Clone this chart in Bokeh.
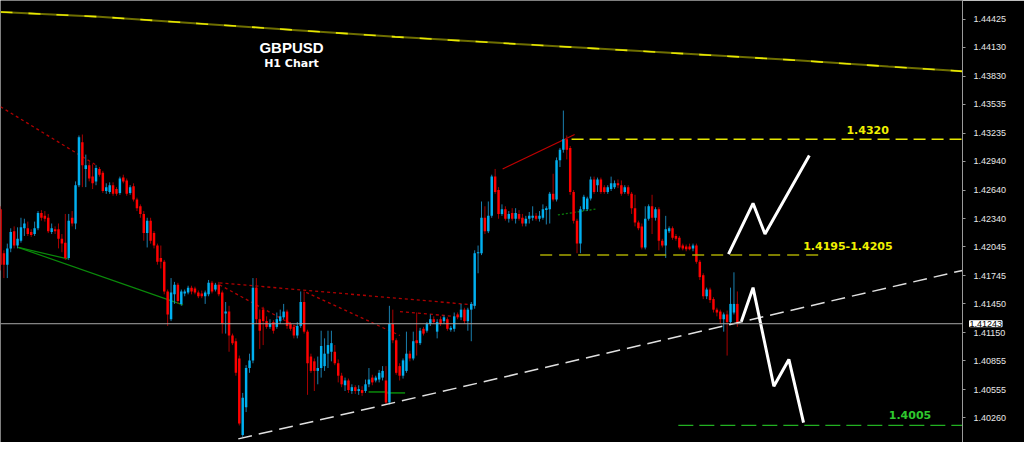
from bokeh.plotting import figure
from bokeh.models import Range1d, FixedTicker, PrintfTickFormatter, Span, Label, ColumnDataSource
from bokeh.embed import file_html
from bokeh.resources import INLINE

# ---------------- data (GBPUSD H1 candles) ----------------
opens = [1.4244,1.4198,1.4186,1.4203,1.4221,1.4206,1.4211,1.4224,1.4224,1.4220,
         1.4218,1.4224,1.4240,1.4237,1.4235,1.4220,1.4223,1.4223,1.4213,1.4209,
         1.4193,1.4235,1.4229,1.4269,1.4314,1.4286,1.4290,1.4278,1.4273,1.4286,
         1.4282,1.4263,1.4262,1.4269,1.4265,1.4261,1.4277,1.4274,1.4261,1.4268,
         1.4254,1.4247,1.4239,1.4219,1.4232,1.4219,1.4206,1.4193,1.4189,1.4158,
         1.4129,1.4155,1.4165,1.4145,1.4156,1.4157,1.4162,1.4161,1.4157,1.4156,
         1.4153,1.4155,1.4167,1.4160,1.4165,1.4157,1.4135,1.4137,1.4112,1.4106,
         1.4088,1.4008,1.4037,1.4078,1.4086,1.4162,1.4129,1.4139,1.4127,1.4121,
         1.4126,1.4121,1.4127,1.4131,1.4137,1.4124,1.4121,1.4112,1.4122,1.4147,
         1.4116,1.4090,1.4085,1.4075,1.4078,1.4080,1.4093,1.4095,1.4095,1.4083,
         1.4070,1.4060,1.4065,1.4054,1.4058,1.4054,1.4055,1.4054,1.4061,1.4068,
         1.4065,1.4066,1.4068,1.4065,1.4042,1.4124,1.4107,1.4080,1.4070,1.4075,
         1.4093,1.4088,1.4107,1.4104,1.4119,1.4117,1.4124,1.4129,1.4116,1.4129,
         1.4127,1.4129,1.4118,1.4119,1.4134,1.4131,1.4139,1.4127,1.4139,1.4143,
         1.4198,1.4198,1.4235,1.4221,1.4237,1.4278,1.4264,1.4239,1.4244,1.4234,
         1.4240,1.4234,1.4239,1.4235,1.4229,1.4234,1.4235,1.4237,1.4234,1.4235,
         1.4243,1.4244,1.4260,1.4254,1.4295,1.4306,1.4317,1.4308,1.4262,1.4232,
         1.4208,1.4244,1.4244,1.4255,1.4275,1.4269,1.4275,1.4267,1.4262,1.4265,
         1.4267,1.4271,1.4269,1.4262,1.4267,1.4260,1.4245,1.4230,1.4226,1.4204,
         1.4234,1.4247,1.4235,1.4244,1.4211,1.4206,1.4221,1.4224,1.4216,1.4214,
         1.4206,1.4205,1.4205,1.4203,1.4206,1.4189,1.4175,1.4153,1.4160,1.4150,
         1.4139,1.4137,1.4129,1.4134,1.4126,1.4136,1.4145]
highs = [1.4247,1.4201,1.4208,1.4224,1.4226,1.4225,1.4235,1.4234,1.4231,1.4223,
         1.4231,1.4242,1.4243,1.4242,1.4239,1.4229,1.4226,1.4229,1.4218,1.4239,
         1.4239,1.4242,1.4273,1.4321,1.4322,1.4301,1.4293,1.4291,1.4290,1.4288,
         1.4284,1.4271,1.4272,1.4272,1.4267,1.4278,1.4280,1.4276,1.4269,1.4271,
         1.4256,1.4249,1.4242,1.4235,1.4235,1.4221,1.4208,1.4206,1.4191,1.4160,
         1.4172,1.4168,1.4167,1.4160,1.4160,1.4164,1.4164,1.4163,1.4159,1.4159,
         1.4159,1.4170,1.4169,1.4167,1.4168,1.4159,1.4147,1.4143,1.4114,1.4109,
         1.4091,1.4052,1.4081,1.4093,1.4172,1.4172,1.4139,1.4142,1.4132,1.4129,
         1.4128,1.4136,1.4139,1.4145,1.4139,1.4126,1.4123,1.4126,1.4158,1.4158,
         1.4118,1.4093,1.4088,1.4090,1.4117,1.4109,1.4117,1.4117,1.4102,1.4087,
         1.4073,1.4068,1.4067,1.4061,1.4060,1.4060,1.4059,1.4066,1.4078,1.4071,
         1.4070,1.4076,1.4080,1.4080,1.4143,1.4139,1.4109,1.4083,1.4088,1.4116,
         1.4096,1.4116,1.4136,1.4120,1.4121,1.4126,1.4134,1.4132,1.4129,1.4132,
         1.4133,1.4131,1.4122,1.4136,1.4136,1.4145,1.4141,1.4141,1.4147,1.4201,
         1.4206,1.4252,1.4247,1.4252,1.4280,1.4286,1.4267,1.4249,1.4247,1.4242,
         1.4245,1.4245,1.4243,1.4239,1.4237,1.4241,1.4247,1.4240,1.4242,1.4249,
         1.4247,1.4262,1.4281,1.4298,1.4308,1.4347,1.4321,1.4310,1.4264,1.4234,
         1.4247,1.4259,1.4257,1.4278,1.4278,1.4277,1.4277,1.4269,1.4269,1.4278,
         1.4274,1.4275,1.4274,1.4269,1.4269,1.4262,1.4259,1.4232,1.4229,1.4247,
         1.4249,1.4259,1.4246,1.4246,1.4213,1.4237,1.4226,1.4226,1.4218,1.4216,
         1.4208,1.4207,1.4208,1.4208,1.4208,1.4191,1.4177,1.4162,1.4162,1.4152,
         1.4141,1.4139,1.4136,1.4138,1.4162,1.4178,1.4158]
lows = [1.4180,1.4172,1.4172,1.4199,1.4203,1.4203,1.4209,1.4216,1.4216,1.4215,
        1.4216,1.4222,1.4232,1.4231,1.4219,1.4218,1.4218,1.4203,1.4199,1.4191,
        1.4191,1.4226,1.4223,1.4267,1.4267,1.4267,1.4273,1.4265,1.4269,1.4278,
        1.4261,1.4260,1.4260,1.4258,1.4258,1.4259,1.4271,1.4258,1.4259,1.4252,
        1.4242,1.4235,1.4211,1.4204,1.4208,1.4203,1.4186,1.4182,1.4155,1.4122,
        1.4127,1.4145,1.4145,1.4143,1.4153,1.4155,1.4155,1.4155,1.4151,1.4151,
        1.4145,1.4153,1.4156,1.4158,1.4153,1.4114,1.4114,1.4095,1.4102,1.4070,
        1.4018,1.4006,1.4032,1.4073,1.4083,1.4124,1.4098,1.4102,1.4119,1.4119,
        1.4114,1.4119,1.4124,1.4129,1.4119,1.4117,1.4109,1.4109,1.4120,1.4114,
        1.4050,1.4073,1.4054,1.4061,1.4068,1.4075,1.4078,1.4085,1.4081,1.4063,
        1.4058,1.4054,1.4052,1.4051,1.4051,1.4050,1.4049,1.4052,1.4058,1.4060,
        1.4063,1.4063,1.4065,1.4040,1.4040,1.4104,1.4071,1.4065,1.4067,1.4073,
        1.4085,1.4086,1.4091,1.4102,1.4112,1.4115,1.4122,1.4124,1.4109,1.4122,
        1.4124,1.4117,1.4116,1.4116,1.4129,1.4128,1.4124,1.4117,1.4106,1.4140,
        1.4177,1.4196,1.4218,1.4219,1.4235,1.4260,1.4234,1.4237,1.4232,1.4230,
        1.4232,1.4229,1.4232,1.4226,1.4226,1.4229,1.4232,1.4232,1.4231,1.4233,
        1.4228,1.4229,1.4252,1.4252,1.4288,1.4303,1.4296,1.4259,1.4229,1.4198,
        1.4198,1.4242,1.4242,1.4253,1.4260,1.4262,1.4260,1.4260,1.4260,1.4263,
        1.4265,1.4266,1.4258,1.4260,1.4258,1.4239,1.4226,1.4222,1.4202,1.4202,
        1.4232,1.4218,1.4232,1.4201,1.4204,1.4193,1.4219,1.4212,1.4211,1.4202,
        1.4201,1.4200,1.4201,1.4200,1.4187,1.4170,1.4150,1.4150,1.4146,1.4136,
        1.4132,1.4124,1.4116,1.4091,1.4124,1.4134,1.4121]
closes = [1.4186,1.4186,1.4203,1.4220,1.4206,1.4213,1.4225,1.4229,1.4218,1.4217,
          1.4224,1.4240,1.4235,1.4234,1.4221,1.4224,1.4221,1.4213,1.4208,1.4193,
          1.4232,1.4229,1.4269,1.4319,1.4290,1.4290,1.4276,1.4271,1.4287,1.4280,
          1.4263,1.4267,1.4269,1.4260,1.4260,1.4276,1.4273,1.4260,1.4267,1.4254,
          1.4245,1.4239,1.4219,1.4232,1.4211,1.4206,1.4189,1.4189,1.4158,1.4134,
          1.4157,1.4165,1.4148,1.4158,1.4158,1.4162,1.4158,1.4157,1.4153,1.4153,
          1.4157,1.4167,1.4158,1.4165,1.4155,1.4124,1.4137,1.4112,1.4104,1.4073,
          1.4020,1.4047,1.4078,1.4086,1.4162,1.4129,1.4117,1.4127,1.4121,1.4124,
          1.4117,1.4129,1.4132,1.4137,1.4122,1.4119,1.4112,1.4122,1.4147,1.4116,
          1.4083,1.4075,1.4075,1.4078,1.4101,1.4093,1.4102,1.4104,1.4083,1.4070,
          1.4061,1.4065,1.4055,1.4058,1.4054,1.4056,1.4052,1.4061,1.4066,1.4063,
          1.4068,1.4073,1.4075,1.4042,1.4124,1.4107,1.4073,1.4070,1.4086,1.4093,
          1.4088,1.4106,1.4104,1.4117,1.4114,1.4124,1.4129,1.4126,1.4126,1.4124,
          1.4131,1.4119,1.4120,1.4132,1.4131,1.4139,1.4127,1.4139,1.4145,1.4198,
          1.4199,1.4235,1.4221,1.4237,1.4278,1.4262,1.4239,1.4244,1.4234,1.4239,
          1.4234,1.4240,1.4234,1.4229,1.4234,1.4237,1.4237,1.4234,1.4237,1.4244,
          1.4245,1.4260,1.4254,1.4295,1.4306,1.4317,1.4306,1.4262,1.4232,1.4208,
          1.4244,1.4257,1.4255,1.4275,1.4262,1.4275,1.4262,1.4262,1.4267,1.4271,
          1.4271,1.4269,1.4260,1.4267,1.4260,1.4245,1.4230,1.4224,1.4204,1.4234,
          1.4247,1.4235,1.4244,1.4211,1.4206,1.4223,1.4224,1.4214,1.4213,1.4204,
          1.4203,1.4202,1.4202,1.4206,1.4189,1.4173,1.4153,1.4160,1.4149,1.4139,
          1.4136,1.4129,1.4134,1.4126,1.4145,1.4145,1.41243]

price_ticks = [1.44425, 1.44130, 1.43830, 1.43535, 1.43235, 1.42940, 1.42640, 1.42340,
               1.42045, 1.41745, 1.41450, 1.41150, 1.40855, 1.40555, 1.40260, 1.39960]
last_price = 1.41243

# moving average (dashed yellow, top of chart): bar position / value
ma_bar = [0, 28.9, 57.8, 86.8, 115.7, 144.6, 173.5, 202.4, 231.3, 260.3, 282]
ma_val = [1.4450, 1.4445, 1.4438, 1.4431, 1.4424, 1.4418, 1.4412, 1.4406, 1.4400, 1.4393, 1.4388]

# analysis levels
level_top = 1.4317          # "1.4320"
level_mid = 1.4196          # "1.4195-1.4205"
level_low = 1.4018          # "1.4005"
support_bar = [69.7, 282]
support_val = [1.4004, 1.4180]

# drawn studies
red_dot_1 = ([0, 28.05], [1.4351, 1.4290])
red_dot_mid = [([64.2, 138.8], [1.4167, 1.4144]),
               ([64.2, 86.8], [1.4165, 1.4121]),
               ([89.6, 117.1], [1.4157, 1.4112]),
               ([117.1, 133.0], [1.4137, 1.4132])]
green_lines = [([5.2, 19.7], [1.4204, 1.4192]),
               ([5.2, 53.5], [1.4204, 1.4144])]
red_solid = ([147.2, 168.3], [1.4286, 1.4322])
green_dot = ([163.4, 174.4], [1.4238, 1.4244])
green_short = [([107.9, 113.4], [1.4053, 1.4053]), ([113.4, 118.6], [1.4052, 1.4052])]
zig_up = ([213.4, 220.6, 224.1, 237.1], [1.4197, 1.4250, 1.4218, 1.4300])
zig_down = ([217.2, 220.6, 226.7, 231.1, 235.4], [1.4127, 1.4162, 1.4059, 1.4087, 1.4021])

# ---------------- figure ----------------
BULL, BEAR = "#00b0f0", "#ff0000"
BULL_WICK, BEAR_WICK = "#1a7fae", "#a80000"
MIN_BODY = 0.00007
FRAME_W, FRAME_H = 962, 442

idx = list(range(len(opens)))
bull = [c >= o for o, c in zip(opens, closes)]
tops, bots = [], []
for o, c in zip(opens, closes):
    hi, lo = max(o, c), min(o, c)
    if hi - lo < MIN_BODY:
        hi = lo + MIN_BODY
    tops.append(hi)
    bots.append(lo)

src = ColumnDataSource(dict(
    x=idx, high=highs, low=lows, top=tops, bottom=bots,
    body=[BULL if b else BEAR for b in bull],
    wick=[BULL_WICK if b else BEAR_WICK for b in bull],
))

p = figure(frame_width=FRAME_W, frame_height=FRAME_H,
           x_range=Range1d(0, 282), y_range=Range1d(1.40002, 1.4462),
           x_axis_location=None, y_axis_location="right",
           toolbar_location=None, output_backend="svg",
           background_fill_color="black", border_fill_color="black",
           min_border_left=0, min_border_top=0, min_border_bottom=0, min_border_right=0)
p.outline_line_color = None
p.grid.visible = False

ax = p.yaxis[0]
ax.ticker = FixedTicker(ticks=price_ticks)
ax.formatter = PrintfTickFormatter(format="%.5f")
ax.axis_line_color = "#9a9a9a"
ax.major_tick_line_color = "#9a9a9a"
ax.major_tick_out = 3
ax.major_tick_in = 0
ax.minor_tick_line_color = None
ax.major_label_text_color = "#e8e8e8"
ax.major_label_text_font = "Liberation Sans"
ax.major_label_text_font_size = "9px"
ax.major_label_standoff = 8

# moving average
p.line(ma_bar, ma_val, line_color="#6e6e00", line_width=2)
p.line(ma_bar, ma_val, line_color="#e8e800", line_width=1.6, line_dash="12 16")

# current price line
p.add_layout(Span(location=last_price, dimension="width", line_color="#a8a8a8", line_width=1))

# studies under candles
p.line(*red_dot_1, line_color="#b00000", line_width=1.3, line_dash="3 3")
for xs, ys in red_dot_mid:
    p.line(xs, ys, line_color="#b00000", line_width=1.3, line_dash="3 3")
for xs, ys in green_lines:
    p.line(xs, ys, line_color="#0a8a0a", line_width=1.2)
p.line(*red_solid, line_color="#c00000", line_width=1.2)
p.line(*green_dot, line_color="#0a7a0a", line_width=1.3, line_dash="2 2")
for xs, ys in green_short:
    p.line(xs, ys, line_color="#0a8a0a", line_width=1.5)

# candles
p.segment(x0="x", y0="low", x1="x", y1="high", line_color="wick", line_width=1, source=src)
p.vbar(x="x", width=0.72, top="top", bottom="bottom", fill_color="body", line_color=None, source=src)

# levels
p.line([167.4, 282], [level_top, level_top], line_color="#e6e600", line_width=1.5, line_dash="12 6")
p.line([158.2, 241.5], [level_mid, level_mid], line_color="#a8a800", line_width=1.5, line_dash="12 7")
p.line([198.7, 282], [level_low, level_low], line_color="#22b022", line_width=1.2, line_dash="15 6")
p.line(support_bar, support_val, line_color="#e0e0e0", line_width=1.5, line_dash="14 7")

# projected paths
p.line(*zig_up, line_color="white", line_width=3)
p.line(*zig_down, line_color="white", line_width=3)

# texts
p.add_layout(Label(x=85.3, y=1.4413, text="GBPUSD", text_color="white", text_font="Liberation Sans",
                   text_font_style="bold", text_font_size="15px", text_align="center", text_baseline="middle"))
p.add_layout(Label(x=85.3, y=1.4396, text="H1 Chart", text_color="white", text_font="DejaVu Sans",
                   text_font_style="bold", text_font_size="11px", text_align="center", text_baseline="middle"))
p.add_layout(Label(x=254.2, y=1.4327, text="1.4320", text_color="#f0f000", text_font="DejaVu Sans",
                   text_font_style="bold", text_font_size="11px", text_align="center", text_baseline="middle"))
p.add_layout(Label(x=248.4, y=1.4205, text="1.4195-1.4205", text_color="#f0f000", text_font="DejaVu Sans",
                   text_font_style="bold", text_font_size="11px", text_align="center", text_baseline="middle"))
p.add_layout(Label(x=266.6, y=1.4029, text="1.4005", text_color="#2ec82e", text_font="DejaVu Sans",
                   text_font_style="bold", text_font_size="11px", text_align="center", text_baseline="middle"))

# current price tag on the price scale (placed in a side panel so it is not clipped to the frame)
p.add_layout(Label(x=-40, y=last_price, x_units="screen", y_units="data",
                   text=f"{last_price:.5f}", text_color="black",
                   text_font="Liberation Sans", text_font_size="9px", text_baseline="middle",
                   background_fill_color="white", border_line_color="white"), "right")

open("out.html", "w").write(file_html(p, INLINE))
